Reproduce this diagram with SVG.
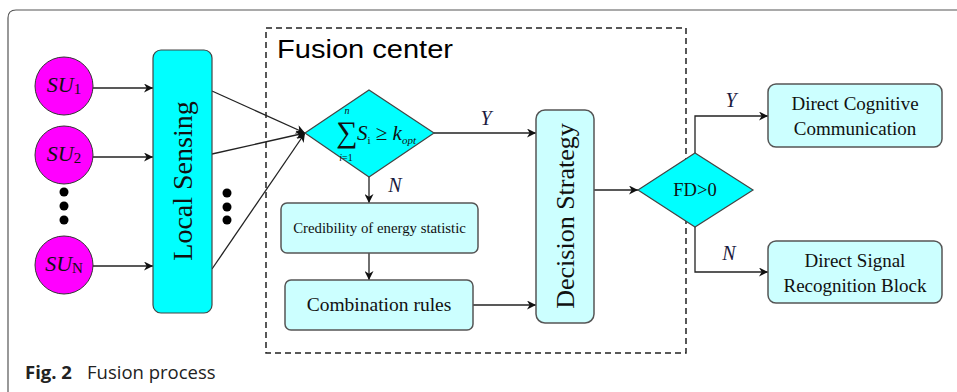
<svg xmlns="http://www.w3.org/2000/svg" width="957" height="392" viewBox="0 0 957 392">
<style>
.su{fill:#ff00ff;stroke:#333;stroke-width:1}
.cy{fill:#00ffff;stroke:#444;stroke-width:1.2}
.lc{fill:#ccffff;stroke:#555;stroke-width:1.5}
.ln{fill:none;stroke:#222;stroke-width:1.3}
.t{font-family:"Liberation Serif",serif;fill:#111}
.lab{font-family:"Liberation Serif",serif;font-style:italic;fill:#1a1a40;font-size:20px}
.dot{fill:#000}
</style>
<defs>
<marker id="ah" viewBox="0 0 10 10" refX="10" refY="5" markerWidth="9" markerHeight="9" markerUnits="userSpaceOnUse" orient="auto">
<path d="M0,0 L10,5 L0,10 L3,5 z" fill="#111"/>
</marker>
</defs>
<rect x="0" y="0" width="957" height="392" fill="#fff"/>
<path d="M8,392 V18 Q8,10 16,10 H957" fill="none" stroke="#555" stroke-width="1.2"/>
<rect x="266" y="28" width="420" height="325" fill="none" stroke="#222" stroke-width="1.5" stroke-dasharray="6,4"/>
<text x="277" y="58" font-family="Liberation Sans,Arial,sans-serif" font-size="26" textLength="176" lengthAdjust="spacingAndGlyphs" fill="#000">Fusion center</text>

<g id="connectors">
<line class="ln" x1="93" y1="88" x2="153" y2="88" marker-end="url(#ah)"/>
<line class="ln" x1="93" y1="157" x2="153" y2="157" marker-end="url(#ah)"/>
<line class="ln" x1="93" y1="266" x2="153" y2="266" marker-end="url(#ah)"/>
<line class="ln" x1="212" y1="91" x2="305" y2="133" marker-end="url(#ah)"/>
<line class="ln" x1="212" y1="154" x2="305" y2="133" marker-end="url(#ah)"/>
<line class="ln" x1="212" y1="269" x2="305" y2="133" marker-end="url(#ah)"/>
<line class="ln" x1="434" y1="133" x2="536" y2="133" marker-end="url(#ah)"/>
<line class="ln" x1="369" y1="177" x2="369" y2="203" marker-end="url(#ah)"/>
<line class="ln" x1="369" y1="253" x2="369" y2="280" marker-end="url(#ah)"/>
<line class="ln" x1="473" y1="305" x2="536" y2="305" marker-end="url(#ah)"/>
<line class="ln" x1="594" y1="190" x2="638" y2="190" marker-end="url(#ah)"/>
<polyline class="ln" points="695,153 695,116 768,116" marker-end="url(#ah)"/>
<polyline class="ln" points="695,227 695,272 768,272" marker-end="url(#ah)"/>
<text class="lab" x="486" y="125" text-anchor="middle">Y</text>
<text class="lab" x="395" y="192" text-anchor="middle">N</text>
<text class="lab" x="731" y="107" text-anchor="middle">Y</text>
<text class="lab" x="729" y="260" text-anchor="middle">N</text>
</g>

<g id="su1"><circle class="su" cx="64" cy="86" r="29"/><text class="t" x="64" y="92" text-anchor="middle" font-size="22"><tspan font-style="italic">SU</tspan><tspan font-size="15" dy="2">1</tspan></text></g>
<g id="su2"><circle class="su" cx="64" cy="155" r="29"/><text class="t" x="64" y="161" text-anchor="middle" font-size="22"><tspan font-style="italic">SU</tspan><tspan font-size="15" dy="2">2</tspan></text></g>
<g id="sun"><circle class="su" cx="64" cy="265" r="29"/><text class="t" x="64" y="271" text-anchor="middle" font-size="22"><tspan font-style="italic">SU</tspan><tspan font-size="15" dy="2">N</tspan></text></g>
<g id="dots-left"><circle class="dot" cx="64" cy="192" r="4.5"/><circle class="dot" cx="64" cy="206" r="4.5"/><circle class="dot" cx="64" cy="220" r="4.5"/></g>
<g id="dots-right"><circle class="dot" cx="227" cy="193" r="4.5"/><circle class="dot" cx="227" cy="207" r="4.5"/><circle class="dot" cx="227" cy="220" r="4.5"/></g>

<g id="local-sensing"><rect class="cy" x="153" y="50" width="59" height="263" rx="8"/><text class="t" transform="translate(192,181) rotate(-90)" text-anchor="middle" font-size="28">Local Sensing</text></g>

<g id="sum-decision"><polygon class="cy" points="305,133 369,90 434,133 369,177"/>
<text class="t" x="347" y="142" text-anchor="middle" font-size="30">∑</text>
<text class="t" x="347" y="114" text-anchor="middle" font-size="10" font-style="italic">n</text>
<text class="t" x="346" y="161" text-anchor="middle" font-size="10"><tspan font-style="italic">i</tspan>=1</text>
<text class="t" x="357" y="140" font-size="21"><tspan font-style="italic">S</tspan><tspan font-size="11" dy="4">i</tspan><tspan dy="-4"> ≥ </tspan><tspan font-style="italic">k</tspan><tspan font-size="11" dy="4" font-style="italic">opt</tspan></text>
</g>

<g id="credibility"><rect class="lc" x="281" y="203" width="197" height="50" rx="6"/><text class="t" x="379.5" y="233" text-anchor="middle" font-size="14.8">Credibility of energy statistic</text></g>
<g id="combination"><rect class="lc" x="285" y="280" width="188" height="50" rx="6"/><text class="t" x="379" y="311" text-anchor="middle" font-size="19.5">Combination rules</text></g>
<g id="decision-strategy"><rect class="lc" x="536" y="110" width="58" height="213" rx="9"/><text class="t" transform="translate(574,216) rotate(-90)" text-anchor="middle" font-size="26">Decision Strategy</text></g>
<g id="fd"><polygon class="cy" points="638,190 695,153 753,190 695,227"/><text class="t" x="695" y="196" text-anchor="middle" font-size="18.5">FD&gt;0</text></g>
<g id="cognitive"><rect class="lc" x="768" y="84" width="174" height="63" rx="8"/><text class="t" x="855" y="110" text-anchor="middle" font-size="19">Direct Cognitive</text><text class="t" x="855" y="135" text-anchor="middle" font-size="19">Communication</text></g>
<g id="signal"><rect class="lc" x="768" y="241" width="174" height="62" rx="8"/><text class="t" x="855" y="267" text-anchor="middle" font-size="19">Direct Signal</text><text class="t" x="855" y="292" text-anchor="middle" font-size="19">Recognition Block</text></g>

<text x="25" y="379" font-family="Open Sans,sans-serif" font-size="18.5" fill="#222"><tspan font-weight="bold">Fig. 2</tspan><tspan x="87">Fusion process</tspan></text>
</svg>
